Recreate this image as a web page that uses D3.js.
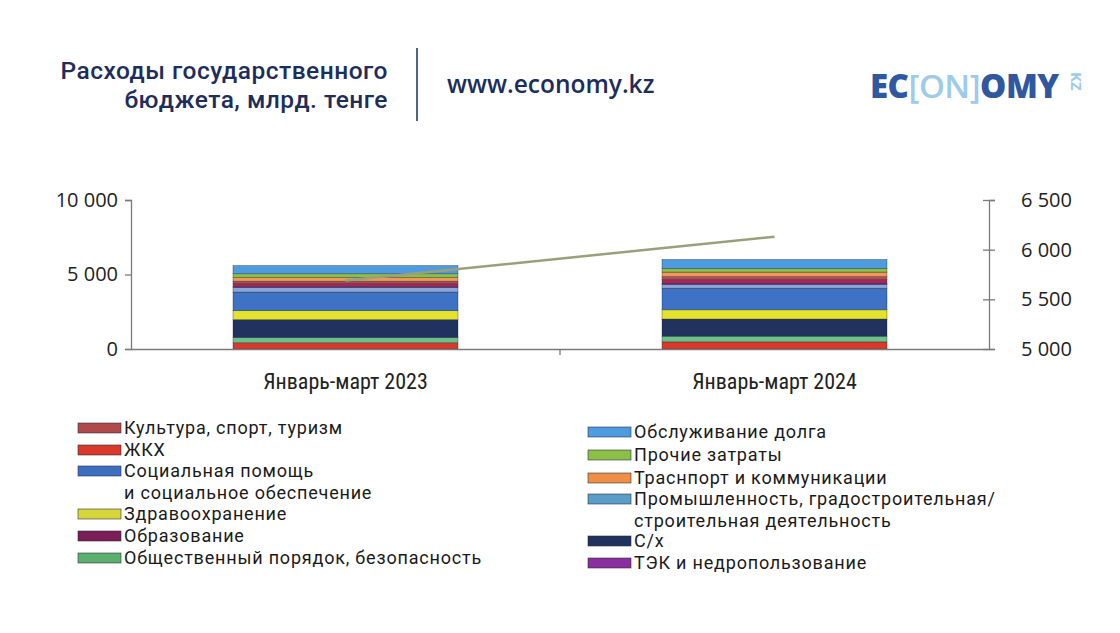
<!DOCTYPE html>
<html><head><meta charset="utf-8">
<script src="https://cdn.jsdelivr.net/npm/d3@7"></script>
<style>body{margin:0;background:#fff;} svg{display:block;}</style>
</head><body>
<svg id="c" width="1120" height="633"></svg>
<script>
const categories = ["Январь-март 2023", "Январь-март 2024"];
// stack order bottom -> top
const seriesNames = ["ЖКХ","Общественный порядок, безопасность","С/х","Здравоохранение",
  "Социальная помощь и социальное обеспечение","Промышленность, градостроительная/строительная деятельность",
  "ТЭК и недропользование","Образование","Культура, спорт, туризм","Траснпорт и коммуникации",
  "Прочие затраты","Обслуживание долга"];
const seriesColors = ["#d8392b","#6cc08a","#22325f","#e3e22c","#3d72c4","#8aa6d8",
  "#7a2a8a","#a3285a","#b84a55","#ee9a55","#8cbf48","#4f9be0"];
const values2023 = [420,350,1200,600,1250,300,80,200,150,250,250,550];
const values2024 = [480,380,1150,620,1450,250,80,250,200,300,250,600];
const lineValues = [5690, 6130];
const leftTicks = [0, 5000, 10000];
const rightTicks = [5000, 5500, 6000, 6500];
const legendLeft = [["Культура, спорт, туризм"],["ЖКХ"],["Социальная помощь","и социальное обеспечение"],["Здравоохранение"],["Образование"],["Общественный порядок, безопасность"]];
const legendLeftColors = ["#b04a4a","#d8392b","#3d6fc0","#d6d63a","#7a1f55","#5cb06e"];
const legendRight = [["Обслуживание долга"],["Прочие затраты"],["Траснпорт и коммуникации"],["Промышленность, градостроительная/","строительная деятельность"],["С/х"],["ТЭК и недропользование"]];
const legendRightColors = ["#4f9be0","#8cbf48","#ee8f45","#5a9ec8","#22325f","#8a2f9e"];

const svg = d3.select("#c");
const navy = "#1d2d5c";
const fontMain = "'Open Sans', 'Noto Sans', sans-serif";
const fontTight = "Roboto, 'Liberation Sans', sans-serif";

// Header
svg.append("text").attr("x",388).attr("y",79).attr("text-anchor","end")
  .attr("font-family",fontTight).attr("font-size",24.5).attr("font-weight",500).attr("letter-spacing",0.5)
  .attr("fill",navy).text("Расходы государственного");
svg.append("text").attr("x",388).attr("y",108).attr("text-anchor","end")
  .attr("font-family",fontTight).attr("font-size",24.5).attr("font-weight",500).attr("letter-spacing",0.5)
  .attr("fill",navy).text("бюджета, млрд. тенге");
svg.append("line").attr("x1",417).attr("x2",417).attr("y1",48).attr("y2",121).attr("stroke",navy).attr("stroke-width",1.5);
svg.append("text").attr("x",447).attr("y",93).attr("font-family",fontMain).attr("font-size",24.5)
  .attr("font-weight",600).attr("fill",navy).text("www.economy.kz");
// logo
const logo = svg.append("text").attr("x",870).attr("y",98).attr("font-family","'Open Sans', sans-serif")
  .attr("font-size",33).attr("font-weight",800).attr("letter-spacing",-0.5);
logo.append("tspan").attr("fill","#2f58a0").text("EC");
logo.append("tspan").attr("fill","#9ccbeb").attr("font-weight",600).text("[ON]");
logo.append("tspan").attr("fill","#2f58a0").text("OMY");
svg.append("text").attr("transform","translate(1071,72) rotate(90)").attr("font-family","'Open Sans', sans-serif")
  .attr("font-size",15).attr("font-weight",700).attr("fill","#9ccbeb").text("KZ");

// Chart
const x = d3.scaleBand().domain(categories).range([131,989]).paddingInner(0).paddingOuter(0);
const yL = d3.scaleLinear().domain([0,10000]).range([349,200]);
const yR = d3.scaleLinear().domain([5000,6500]).range([349,200]);

const rows = categories.map((c,i)=>{ const o={cat:c}; seriesNames.forEach((s,j)=>o[s]=(i===0?values2023:values2024)[j]); return o;});
const stacked = d3.stack().keys(seriesNames)(rows);
const barW = 225;
const g = svg.append("g");
stacked.forEach((layer,j)=>{
  g.selectAll(null).data(layer).enter().append("rect")
    .attr("x",d=>x(d.data.cat)+x.bandwidth()/2-barW/2)
    .attr("width",barW)
    .attr("y",d=>yL(d[1]))
    .attr("height",d=>yL(d[0])-yL(d[1]))
    .attr("fill",seriesColors[j])
    .attr("stroke","rgba(20,20,40,0.55)").attr("stroke-width",0.6);
});

// Axes
const axisColor = "#7a7a7a";
const tickFont = "'Open Sans', sans-serif";
const fmt = d=>d3.format(",")(d).replace(/,/g," ");
const axL = svg.append("g").attr("transform","translate(131,0)")
  .call(d3.axisLeft(yL).tickValues(leftTicks).tickSize(6).tickPadding(7).tickFormat(fmt));
const axR = svg.append("g").attr("transform","translate(989,0)")
  .call(d3.axisRight(yR).tickValues(rightTicks).tickSize(6).tickPadding(26).tickFormat(fmt));
[axL,axR].forEach(a=>{
  a.select(".domain").attr("stroke",axisColor).attr("stroke-width",1.3);
  a.selectAll(".tick line").attr("stroke",axisColor).attr("stroke-width",1.3);
  a.selectAll("text").attr("font-family",tickFont).attr("font-size",20).attr("fill","#222");
});
axR.selectAll(".tick line").attr("x1",-6).attr("x2",6);
const axX = svg.append("g").attr("transform","translate(0,349)")
  .call(d3.axisBottom(x).tickSize(0).tickPadding(24));
axX.select(".domain").attr("stroke",axisColor).attr("stroke-width",1.5);
axX.selectAll("text").attr("font-family","'Liberation Sans Narrow', 'Roboto Condensed', sans-serif")
  .attr("font-size",22).attr("fill","#222");
svg.append("line").attr("x1",x(categories[1])).attr("x2",x(categories[1])).attr("y1",349).attr("y2",355)
  .attr("stroke",axisColor).attr("stroke-width",1.3);

// Line
const line = d3.line().x((d,i)=>x(categories[i])+x.bandwidth()/2).y(d=>yR(d));
svg.append("path").datum(lineValues).attr("d",line).attr("fill","none")
  .attr("stroke","#9aa07a").attr("stroke-width",2.5);

// Legend
function legend(items, colors, sx, tx, ys){
  items.forEach((lines,i)=>{
    svg.append("rect").attr("x",sx).attr("y",ys[i]-5).attr("width",43).attr("height",10)
      .attr("fill",colors[i]).attr("stroke","rgba(40,40,60,0.7)").attr("stroke-width",0.8);
    const t = svg.append("text").attr("font-family",fontTight).attr("font-size",18)
      .attr("letter-spacing",0.8).attr("fill","#1a1a1a");
    lines.forEach((ln,k)=>{
      t.append("tspan").attr("x",tx).attr("y",ys[i]+6+k*21.5).text(ln);
    });
  });
}
legend(legendLeft, legendLeftColors, 78, 124, [428,450,471,514,536,558]);
legend(legendRight, legendRightColors, 588, 634, [432,455,478,499,541,563]);
</script>
</body></html>
